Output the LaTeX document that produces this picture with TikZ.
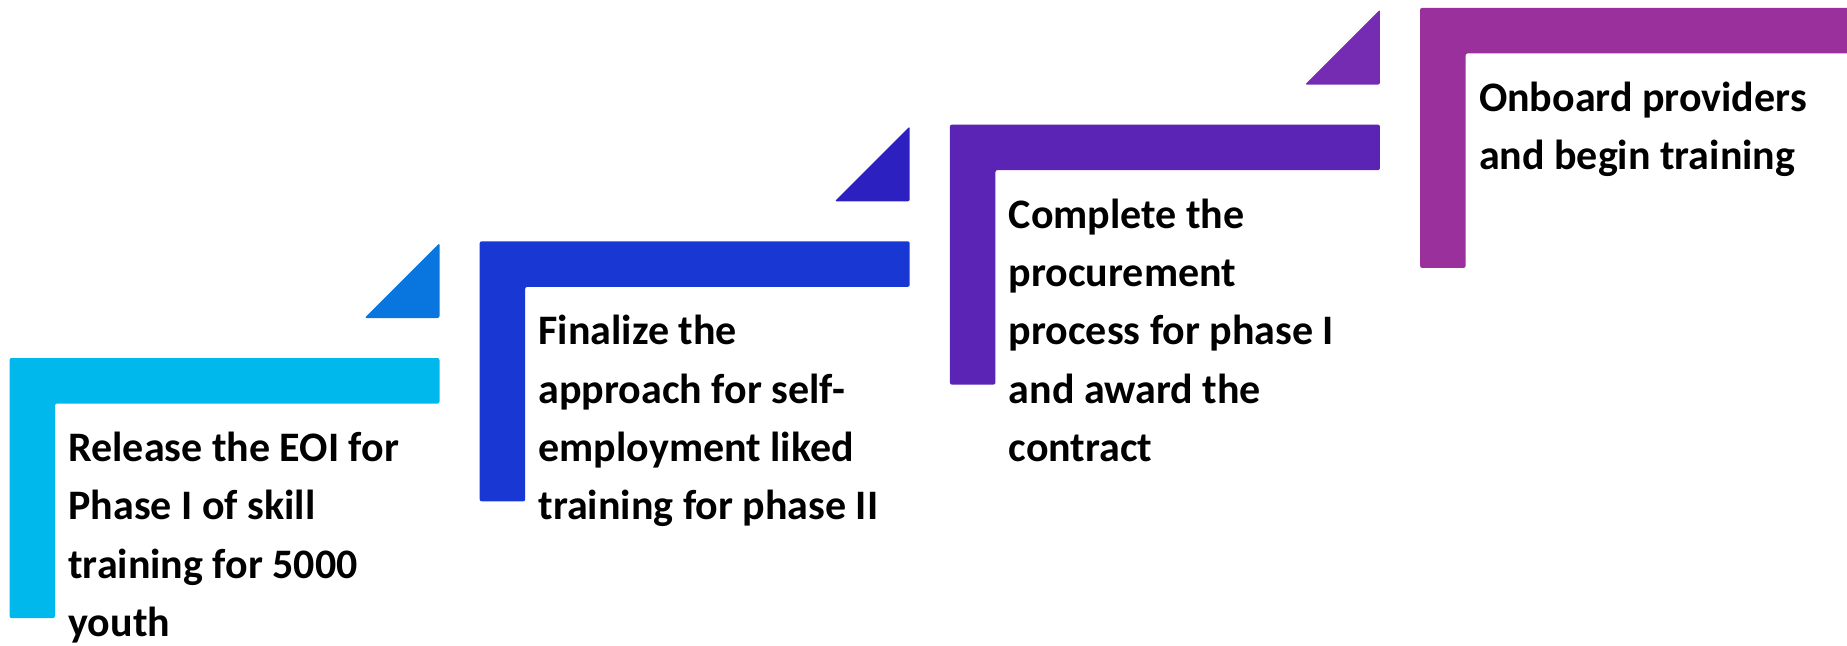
\documentclass[tikz,border=0pt]{standalone}
\usepackage{fontspec}
\setmainfont{Carlito}
\definecolor{stepA}{RGB}{0,184,236}
\definecolor{tipA}{RGB}{9,117,222}
\definecolor{stepB}{RGB}{25,55,210}
\definecolor{tipB}{RGB}{44,32,192}
\definecolor{stepC}{RGB}{91,36,180}
\definecolor{tipC}{RGB}{118,44,178}
\definecolor{stepD}{RGB}{154,48,156}
% One stair step: an L-shaped bracket plus the small triangle above its right end
% #1,#2 = top-left corner, #3 = bracket colour, #4 = triangle colour
\newcommand\stairstep[4]{%
  \fill[#3, rounded corners=1pt] (#1,#2) -- ++(430,0) -- ++(0,45.5) -- ++(-384.5,0)
      -- ++(0,214.5) -- ++(-45.5,0) -- cycle;
  \fill[#4, rounded corners=1pt] (#1+430,#2-40) -- ++(0,-75) -- ++(-75,75) -- cycle;
}
\begin{document}
\begin{tikzpicture}[x=0.5pt,y=-0.5pt,
  steptext/.style={anchor=base west, inner sep=0pt, text=black,
    font=\fontsize{21}{29.15}\selectfont\bfseries}]
\useasboundingbox (0,0) rectangle (1847,645);
\clip (0,0) rectangle (1847,645);

\stairstep{9.5}{358}{stepA}{tipA}
\stairstep{479.7}{241.3}{stepB}{tipB}
\stairstep{949.9}{124.6}{stepC}{tipC}
\fill[stepD, rounded corners=1pt] (1420.1,7.9) -- ++(440,0) -- ++(0,45.5) -- ++(-394.5,0)
      -- ++(0,214.5) -- ++(-45.5,0) -- cycle;

\node[steptext] (release) at (68,461.5)
  {\begin{tabular}[t]{@{}l@{}}Release the EOI for\\Phase I of skill\\training for 5000\\youth\end{tabular}};
\node[steptext] (finalize) at (538.2,344.8)
  {\begin{tabular}[t]{@{}l@{}}Finalize the\\approach for self-\\employment liked\\training for phase II\end{tabular}};
\node[steptext] (complete) at (1008.4,228.1)
  {\begin{tabular}[t]{@{}l@{}}Complete the\\procurement\\process for phase I\\and award the\\contract\end{tabular}};
\node[steptext] (onboard) at (1478.6,111.4)
  {\begin{tabular}[t]{@{}l@{}}Onboard providers\\and begin training\end{tabular}};
\end{tikzpicture}
\end{document}
